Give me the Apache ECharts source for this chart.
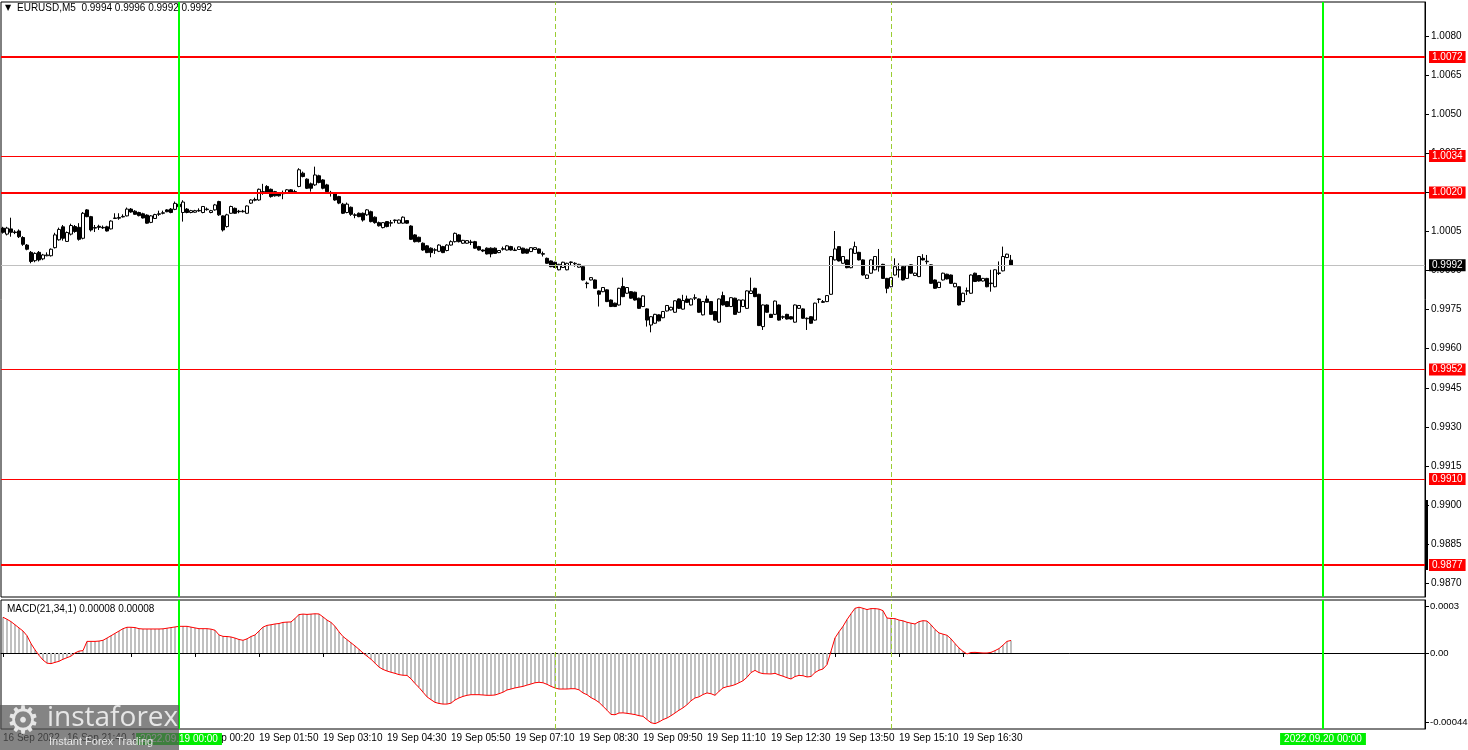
<!DOCTYPE html>
<html>
<head>
<meta charset="utf-8">
<title>EURUSD,M5</title>
<script src="https://cdn.jsdelivr.net/npm/echarts@6/dist/echarts.min.js"></script>
<style>
  html, body { margin: 0; padding: 0; background: #fff; }
  #chart { width: 1468px; height: 750px; }
</style>
</head>
<body>
<div id="chart"></div>
<script>
// EURUSD M5 bars, 16 Sep 20:20 .. 19 Sep 17:30, each row [open, close, low, high]
const ohlc = [
  [1.00063,1.00047,1.00042,1.00068],[1.00040,1.00063,1.00035,1.00068],[1.00060,1.00047,1.00030,1.00103],[1.00048,1.00046,1.00040,1.00055],
  [1.00052,1.00030,1.00025,1.00058],[1.00027,1.00001,0.99995,1.00032],[0.99998,0.99982,0.99978,1.00002],[0.99970,0.99935,0.99928,0.99975],
  [0.99938,0.99966,0.99932,0.99970],[0.99970,0.99941,0.99935,0.99975],[0.99945,0.99960,0.99940,0.99964],[0.99957,0.99960,0.99955,0.99970],
  [0.99957,0.99982,0.99954,0.99985],[0.99988,1.00037,0.99985,1.00045],[1.00018,1.00058,1.00015,1.00065],[1.00068,1.00024,1.00015,1.00075],
  [1.00012,1.00046,1.00010,1.00050],[1.00040,1.00073,1.00035,1.00080],[1.00069,1.00050,1.00045,1.00075],[1.00066,1.00020,1.00015,1.00082],
  [1.00024,1.00120,1.00020,1.00125],[1.00133,1.00107,1.00105,1.00136],[1.00107,1.00056,1.00050,1.00110],[1.00065,1.00063,1.00048,1.00075],
  [1.00070,1.00066,1.00056,1.00076],[1.00066,1.00064,1.00060,1.00073],[1.00068,1.00052,1.00050,1.00072],[1.00060,1.00090,1.00058,1.00093],
  [1.00100,1.00102,1.00098,1.00120],[1.00101,1.00104,1.00095,1.00120],[1.00106,1.00108,1.00104,1.00116],[1.00110,1.00136,1.00108,1.00142],
  [1.00136,1.00125,1.00122,1.00140],[1.00128,1.00116,1.00114,1.00132],[1.00123,1.00111,1.00108,1.00126],[1.00118,1.00102,1.00100,1.00122],
  [1.00113,1.00082,1.00080,1.00116],[1.00085,1.00110,1.00082,1.00113],[1.00100,1.00115,1.00098,1.00118],[1.00116,1.00118,1.00110,1.00130],
  [1.00120,1.00122,1.00116,1.00130],[1.00133,1.00126,1.00124,1.00136],[1.00136,1.00123,1.00120,1.00140],[1.00135,1.00158,1.00132,1.00165],
  [1.00155,1.00145,1.00140,1.00160],[1.00123,1.00163,1.00088,1.00170],[1.00136,1.00123,1.00120,1.00140],[1.00123,1.00130,1.00120,1.00133],
  [1.00124,1.00130,1.00122,1.00133],[1.00129,1.00131,1.00126,1.00139],[1.00123,1.00146,1.00120,1.00148],[1.00134,1.00136,1.00130,1.00142],
  [1.00123,1.00130,1.00120,1.00133],[1.00133,1.00152,1.00130,1.00156],[1.00165,1.00114,1.00110,1.00168],[1.00110,1.00056,1.00050,1.00112],
  [1.00069,1.00114,1.00065,1.00118],[1.00120,1.00146,1.00118,1.00149],[1.00139,1.00120,1.00118,1.00142],[1.00128,1.00126,1.00120,1.00133],
  [1.00126,1.00128,1.00123,1.00133],[1.00120,1.00148,1.00118,1.00150],[1.00159,1.00171,1.00156,1.00174],[1.00170,1.00173,1.00166,1.00180],
  [1.00171,1.00212,1.00168,1.00215],[1.00203,1.00200,1.00191,1.00233],[1.00223,1.00197,1.00194,1.00228],[1.00212,1.00184,1.00180,1.00215],
  [1.00203,1.00187,1.00184,1.00206],[1.00197,1.00187,1.00184,1.00200],[1.00195,1.00199,1.00174,1.00207],[1.00197,1.00210,1.00194,1.00213],
  [1.00210,1.00197,1.00194,1.00213],[1.00203,1.00201,1.00194,1.00210],[1.00223,1.00287,1.00220,1.00293],[1.00274,1.00261,1.00258,1.00280],
  [1.00251,1.00216,1.00213,1.00254],[1.00233,1.00216,1.00203,1.00238],[1.00229,1.00267,1.00225,1.00299],[1.00264,1.00238,1.00235,1.00268],
  [1.00248,1.00216,1.00212,1.00251],[1.00229,1.00203,1.00200,1.00233],[1.00200,1.00198,1.00184,1.00206],[1.00197,1.00171,1.00168,1.00200],
  [1.00184,1.00159,1.00155,1.00187],[1.00155,1.00120,1.00117,1.00160],[1.00123,1.00155,1.00120,1.00161],[1.00143,1.00116,1.00110,1.00146],
  [1.00114,1.00112,1.00101,1.00120],[1.00120,1.00107,1.00105,1.00123],[1.00120,1.00094,1.00088,1.00123],[1.00114,1.00133,1.00110,1.00136],
  [1.00126,1.00088,1.00085,1.00130],[1.00105,1.00084,1.00080,1.00108],[1.00084,1.00072,1.00069,1.00088],[1.00065,1.00084,1.00062,1.00086],
  [1.00088,1.00069,1.00066,1.00090],[1.00082,1.00084,1.00069,1.00094],[1.00092,1.00094,1.00082,1.00096],[1.00082,1.00094,1.00080,1.00096],
  [1.00082,1.00105,1.00080,1.00108],[1.00092,1.00082,1.00080,1.00094],[1.00071,1.00020,1.00018,1.00074],[1.00037,1.00011,1.00008,1.00040],
  [1.00028,1.00011,1.00008,1.00030],[1.00005,0.99979,0.99976,1.00008],[0.99995,0.99969,0.99967,0.99998],[0.99986,0.99969,0.99951,0.99989],
  [0.99978,0.99980,0.99964,0.99986],[0.99974,0.99998,0.99971,1.00001],[0.99992,0.99969,0.99967,0.99995],[0.99977,0.99998,0.99974,1.00001],
  [0.99998,1.00011,0.99996,1.00016],[1.00011,1.00043,1.00008,1.00046],[1.00037,1.00011,1.00008,1.00040],[1.00005,1.00016,1.00002,1.00018],
  [1.00005,1.00015,1.00003,1.00017],[1.00010,1.00008,0.99998,1.00018],[1.00011,0.99986,0.99984,1.00014],[0.99992,0.99979,0.99977,0.99995],
  [0.99979,0.99975,0.99971,0.99981],[0.99986,0.99964,0.99962,0.99989],[0.99986,0.99964,0.99951,0.99989],[0.99986,0.99966,0.99964,0.99989],
  [0.99969,0.99977,0.99967,0.99979],[0.99982,0.99984,0.99977,0.99992],[0.99979,0.99995,0.99977,0.99998],[0.99992,0.99979,0.99977,0.99995],
  [0.99977,0.99979,0.99975,0.99988],[0.99981,0.99991,0.99979,0.99993],[0.99986,0.99967,0.99965,0.99988],[0.99982,0.99967,0.99965,0.99984],
  [0.99973,0.99988,0.99971,0.99990],[0.99981,0.99988,0.99979,0.99990],[0.99983,0.99967,0.99965,0.99985],[0.99965,0.99963,0.99954,0.99973],
  [0.99947,0.99928,0.99926,0.99950],[0.99937,0.99915,0.99913,0.99939],[0.99932,0.99912,0.99910,0.99934],[0.99903,0.99924,0.99901,0.99926],
  [0.99912,0.99932,0.99910,0.99934],[0.99903,0.99928,0.99901,0.99930],[0.99931,0.99933,0.99919,0.99935],[0.99926,0.99928,0.99915,0.99932],
  [0.99913,0.99924,0.99911,0.99926],[0.99915,0.99864,0.99862,0.99917],[0.99850,0.99852,0.99832,0.99858],[0.99864,0.99873,0.99862,0.99875],
  [0.99864,0.99832,0.99830,0.99866],[0.99822,0.99809,0.99762,0.99824],[0.99819,0.99835,0.99817,0.99837],[0.99826,0.99781,0.99779,0.99828],
  [0.99787,0.99762,0.99760,0.99789],[0.99775,0.99762,0.99760,0.99777],[0.99768,0.99832,0.99766,0.99834],[0.99839,0.99800,0.99798,0.99873],
  [0.99813,0.99835,0.99811,0.99837],[0.99819,0.99794,0.99792,0.99821],[0.99817,0.99787,0.99785,0.99819],[0.99794,0.99755,0.99753,0.99796],
  [0.99762,0.99803,0.99760,0.99805],[0.99753,0.99710,0.99685,0.99755],[0.99691,0.99723,0.99663,0.99725],[0.99698,0.99732,0.99696,0.99734],
  [0.99730,0.99707,0.99705,0.99732],[0.99719,0.99743,0.99717,0.99745],[0.99745,0.99766,0.99743,0.99768],[0.99749,0.99759,0.99747,0.99761],
  [0.99740,0.99784,0.99738,0.99786],[0.99791,0.99755,0.99753,0.99793],[0.99752,0.99785,0.99750,0.99807],[0.99791,0.99778,0.99776,0.99804],
  [0.99768,0.99791,0.99766,0.99793],[0.99794,0.99796,0.99787,0.99809],[0.99791,0.99740,0.99738,0.99793],[0.99730,0.99781,0.99728,0.99783],
  [0.99791,0.99778,0.99776,0.99804],[0.99781,0.99732,0.99730,0.99783],[0.99743,0.99710,0.99708,0.99745],[0.99702,0.99791,0.99700,0.99793],
  [0.99804,0.99768,0.99766,0.99819],[0.99781,0.99762,0.99760,0.99783],[0.99762,0.99796,0.99760,0.99798],[0.99794,0.99732,0.99730,0.99796],
  [0.99740,0.99787,0.99738,0.99789],[0.99762,0.99787,0.99760,0.99789],[0.99755,0.99822,0.99753,0.99824],[0.99812,0.99822,0.99810,0.99873],
  [0.99832,0.99800,0.99798,0.99834],[0.99809,0.99689,0.99687,0.99811],[0.99685,0.99768,0.99672,0.99770],[0.99768,0.99740,0.99738,0.99770],
  [0.99732,0.99720,0.99718,0.99734],[0.99732,0.99783,0.99730,0.99785],[0.99768,0.99710,0.99708,0.99770],[0.99721,0.99723,0.99714,0.99727],
  [0.99732,0.99714,0.99712,0.99734],[0.99723,0.99714,0.99712,0.99725],[0.99702,0.99768,0.99700,0.99770],[0.99755,0.99766,0.99753,0.99768],
  [0.99753,0.99717,0.99715,0.99755],[0.99715,0.99717,0.99672,0.99720],[0.99723,0.99698,0.99696,0.99725],[0.99710,0.99775,0.99708,0.99777],
  [0.99789,0.99791,0.99775,0.99793],[0.99778,0.99781,0.99776,0.99787],[0.99781,0.99804,0.99779,0.99806],[0.99809,0.99954,0.99807,0.99956],
  [0.99941,0.99983,0.99939,1.00052],[0.99992,0.99937,0.99935,0.99994],[0.99928,0.99954,0.99926,0.99956],[0.99941,0.99911,0.99909,0.99943],
  [0.99911,0.99983,0.99909,0.99985],[0.99966,0.99992,0.99964,1.00011],[0.99970,0.99941,0.99939,0.99972],[0.99941,0.99883,0.99881,0.99943],
  [0.99870,0.99883,0.99868,0.99885],[0.99890,0.99941,0.99888,0.99943],[0.99903,0.99954,0.99901,0.99956],[0.99914,0.99916,0.99896,0.99983],
  [0.99924,0.99870,0.99868,0.99926],[0.99870,0.99832,0.99813,0.99872],[0.99838,0.99873,0.99836,0.99875],[0.99883,0.99915,0.99881,0.99947],
  [0.99902,0.99904,0.99873,0.99928],[0.99915,0.99864,0.99862,0.99917],[0.99870,0.99919,0.99868,0.99921],[0.99922,0.99890,0.99888,0.99924],
  [0.99881,0.99890,0.99879,0.99892],[0.99877,0.99954,0.99875,0.99956],[0.99947,0.99941,0.99939,0.99963],[0.99934,0.99936,0.99924,0.99960],
  [0.99922,0.99851,0.99849,0.99924],[0.99864,0.99832,0.99830,0.99866],[0.99835,0.99855,0.99833,0.99857],[0.99864,0.99890,0.99862,0.99892],
  [0.99886,0.99868,0.99866,0.99888],[0.99883,0.99851,0.99849,0.99885],[0.99838,0.99851,0.99836,0.99853],[0.99838,0.99768,0.99766,0.99840],
  [0.99781,0.99813,0.99779,0.99815],[0.99821,0.99823,0.99806,0.99835],[0.99813,0.99883,0.99811,0.99885],[0.99890,0.99858,0.99856,0.99892],
  [0.99881,0.99860,0.99858,0.99883],[0.99860,0.99870,0.99858,0.99872],[0.99870,0.99838,0.99836,0.99872],[0.99850,0.99852,0.99819,0.99903],
  [0.99838,0.99903,0.99836,0.99905],[0.99889,0.99891,0.99883,0.99935],[0.99899,0.99954,0.99897,0.99992],[0.99950,0.99963,0.99948,0.99965],
  [0.99940,0.99920,0.99920,0.99960]
];

// MACD(21,34,1) main line, one value per bar
const macd = [
  0.000228,0.000215,0.0002,0.00018,0.00016,0.00014,0.00011,0.00006,0.00002,-0.000015,-0.000045,-0.000065,-0.000068,-0.00006,-0.000053,-0.00004,
  -0.00003,-0.00002,0,0.000012,0.000015,0.000074,0.000074,0.000074,0.000076,0.000081,0.000095,0.00011,0.000125,0.00014,0.000155,0.000164,
  0.000164,0.000162,0.000155,0.000153,0.000153,0.000153,0.000153,0.000153,0.000154,0.000158,0.000162,0.000166,0.00017,0.00017,0.00017,0.000165,
  0.00016,0.000155,0.000155,0.000155,0.000152,0.000145,0.000115,0.000106,0.000105,0.000102,0.000095,0.000086,0.000081,0.00009,0.000105,0.000115,
  0.00014,0.000165,0.000176,0.00018,0.000185,0.000188,0.000195,0.000197,0.000198,0.00022,0.000245,0.000248,0.000246,0.000248,0.00025,0.000249,
  0.00023,0.00021,0.000195,0.00017,0.000135,0.000105,0.000085,0.000065,0.000045,0.000023,0,-0.00002,-0.00004,-0.000065,-0.00009,-0.000105,
  -0.000115,-0.000123,-0.00013,-0.000138,-0.000142,-0.000143,-0.000165,-0.000195,-0.00022,-0.00025,-0.00028,-0.000298,-0.000315,-0.000322,-0.000326,-0.000326,
  -0.00032,-0.0003,-0.000287,-0.000277,-0.00027,-0.000266,-0.000266,-0.000266,-0.000268,-0.00027,-0.00027,-0.000268,-0.00026,-0.00025,-0.000236,-0.00023,
  -0.000223,-0.000218,-0.000213,-0.000205,-0.000198,-0.00019,-0.000187,-0.00019,-0.0002,-0.000213,-0.000223,-0.00023,-0.00023,-0.00023,-0.000228,-0.000228,
  -0.000235,-0.000255,-0.000266,-0.000285,-0.000298,-0.000315,-0.00034,-0.000365,-0.000392,-0.000394,-0.000383,-0.000382,-0.000385,-0.000389,-0.000393,-0.0004,
  -0.000404,-0.000425,-0.000445,-0.000451,-0.00044,-0.000425,-0.000415,-0.0004,-0.000383,-0.000365,-0.00035,-0.00033,-0.000305,-0.000287,-0.00028,-0.000265,
  -0.000255,-0.00026,-0.00027,-0.000245,-0.000223,-0.000215,-0.00021,-0.000202,-0.00019,-0.000177,-0.000155,-0.000125,-0.000111,-0.000125,-0.000132,-0.000133,
  -0.000134,-0.00013,-0.00014,-0.000148,-0.000158,-0.000166,-0.00015,-0.000143,-0.000145,-0.000153,-0.00015,-0.000125,-0.00011,-0.000102,-0.000074,0.000011,
  0.000096,0.000135,0.00017,0.000213,0.00025,0.000285,0.000292,0.000285,0.000277,0.000283,0.000283,0.00028,0.00027,0.000223,0.00022,0.000219,
  0.00021,0.000205,0.000196,0.00019,0.000185,0.0002,0.000206,0.000204,0.00018,0.00015,0.000128,0.00012,0.000113,0.00009,0.00006,0.000032,
  0.00001,-0.000006,0.000003,0.000004,0.000002,0,0,0.000004,0.000015,0.000028,0.00005,0.000074,0.00008
];

// time labels, one every 16 bars from the first bar
const tickLabels = ['16 Sep 2022','16 Sep 21:40','16 Sep 23:00','19 Sep 00:20','19 Sep 01:50','19 Sep 03:10','19 Sep 04:30',
  '19 Sep 05:50','19 Sep 07:10','19 Sep 08:30','19 Sep 09:50','19 Sep 11:10','19 Sep 12:30','19 Sep 13:50','19 Sep 15:10','19 Sep 16:30'];
const priceTicks = [0.9870,0.9885,0.9900,0.9915,0.9930,0.9945,0.9960,0.9975,0.9990,1.0005,1.0020,1.0035,1.0050,1.0065,1.0080];
const macdTicks = [0.0003, 0, -0.00044];
const macdTickLabels = ['0.0003', '0.00', '-0.00044'];
const majorLevels = [1.0072, 1.0020, 0.9877];
const minorLevels = [1.0034, 0.9952, 0.9910];
const lastPrice = 0.9992;
const dayStarts = [{ bar: 44, text: '2022.09.19 00:00' }, { bar: 330, text: '2022.09.20 00:00' }];
const separators = [138, 222];
const slotCount = 356;

const FONT = '"Liberation Sans", Arial, sans-serif';
const slots = [];
for (let i = 0; i < slotCount; i++) slots.push(String(i));
const showTick = (idx) => idx % 16 === 0 && idx / 16 < tickLabels.length;
const last = ohlc[ohlc.length - 1];

const vLines = (withLabel) => [
  ...dayStarts.map(d => ({
    xAxis: String(d.bar),
    lineStyle: { color: '#00ff00', width: 2, type: 'solid' },
    label: withLabel ? {
      show: true, position: 'start', distance: 4, formatter: d.text,
      color: '#fff', backgroundColor: '#00ee00', padding: [1, 4], fontSize: 10, fontFamily: FONT
    } : { show: false }
  })),
  ...separators.map(b => ({
    xAxis: String(b),
    lineStyle: { color: '#9acd32', width: 1, type: [5, 3] },
    label: { show: false }
  }))
];

const levelLabel = (bg) => ({
  show: true, position: 'end', distance: 4,
  formatter: p => Number(p.value).toFixed(4),
  color: '#fff', backgroundColor: bg, padding: [1, 3], fontSize: 10, fontFamily: FONT
});

const chart = echarts.init(document.getElementById('chart'));
chart.setOption({
  animation: false,
  backgroundColor: '#fff',
  grid: [
    { left: 1, right: 43, top: 2, height: 595, show: true, borderColor: '#000', borderWidth: 1, outerBoundsMode: 'none', containLabel: false },
    { left: 1, right: 43, top: 600, height: 129, show: true, borderColor: '#000', borderWidth: 1, outerBoundsMode: 'none', containLabel: false }
  ],
  xAxis: [
    { type: 'category', gridIndex: 0, data: slots, boundaryGap: true,
      axisLine: { show: false }, axisTick: { show: false }, axisLabel: { show: false }, splitLine: { show: false } },
    { type: 'category', gridIndex: 1, data: slots, boundaryGap: true,
      axisLine: { show: true, lineStyle: { color: '#000' } },
      axisTick: { show: true, alignWithLabel: true, interval: showTick, length: 4, lineStyle: { color: '#000' } },
      axisLabel: { show: true, interval: showTick, align: 'left', margin: 4, color: '#000', fontSize: 10, fontFamily: FONT,
        formatter: (v, idx) => tickLabels[idx / 16] },
      splitLine: { show: false } }
  ],
  yAxis: [
    { type: 'value', gridIndex: 0, position: 'right', min: 0.98647, max: 1.00931, scale: true,
      axisLine: { show: true, lineStyle: { color: '#000' } },
      axisTick: { show: true, customValues: priceTicks, length: 4, lineStyle: { color: '#000' } },
      axisLabel: { show: true, customValues: priceTicks, margin: 6, color: '#000', fontSize: 10, fontFamily: FONT,
        formatter: v => v.toFixed(4) },
      splitLine: { show: false } },
    { type: 'value', gridIndex: 1, position: 'right', min: -0.000485, max: 0.000338,
      axisLine: { show: true, lineStyle: { color: '#000' } },
      axisTick: { show: true, customValues: macdTicks, length: 4, lineStyle: { color: '#000' } },
      axisLabel: { show: true, customValues: macdTicks, margin: 5, color: '#000', fontSize: 9.5, fontFamily: FONT,
        formatter: v => macdTickLabels[macdTicks.findIndex(t => Math.abs(t - v) < 1e-9)] },
      splitLine: { show: false } }
  ],
  series: [
    {
      type: 'candlestick', xAxisIndex: 0, yAxisIndex: 0, data: ohlc, barWidth: 3,
      itemStyle: { color: '#fff', color0: '#000', borderColor: '#000', borderColor0: '#000', borderWidth: 1 },
      markLine: {
        silent: true, symbol: 'none', animation: false, precision: 5,
        data: [
          { yAxis: lastPrice, lineStyle: { color: '#c0c0c0', width: 1, type: 'solid' }, label: levelLabel('#000') },
          ...majorLevels.map(v => ({ yAxis: v, lineStyle: { color: '#ff0000', width: 2, type: 'solid' }, label: levelLabel('#ff0000') })),
          ...minorLevels.map(v => ({ yAxis: v, lineStyle: { color: '#ff0000', width: 1, type: 'solid' }, label: levelLabel('#ff0000') })),
          ...vLines(false)
        ]
      }
    },
    {
      type: 'bar', xAxisIndex: 1, yAxisIndex: 1, data: macd, barWidth: 2,
      itemStyle: { color: '#c0c0c0' },
      markLine: { silent: true, symbol: 'none', animation: false, precision: 6, data: vLines(true) }
    },
    {
      type: 'line', xAxisIndex: 1, yAxisIndex: 1, data: macd, symbol: 'none',
      lineStyle: { color: '#ff0000', width: 1 }, z: 3
    }
  ],
  graphic: [
    { type: 'text', left: 5, top: 4, style: { text: '▼', fontSize: 8, fill: '#000', fontFamily: 'DejaVu Sans' } },
    { type: 'text', left: 17, top: 3, style: {
        text: 'EURUSD,M5  ' + [last[0], last[3], last[2], last[1]].map(v => v.toFixed(4)).join(' '),
        fill: '#000', font: '10px ' + FONT } },
    { type: 'text', left: 7, top: 604, style: {
        text: 'MACD(21,34,1) ' + macd[macd.length - 1].toFixed(5) + ' ' + macd[macd.length - 1].toFixed(5),
        fill: '#000', font: '10px ' + FONT } },
    { type: 'rect', shape: { x: 1425, y: 500, width: 3, height: 70 }, style: { fill: '#000' }, z: 10 },
    // broker watermark, bottom left
    { type: 'group', z: 100, children: [
      { type: 'rect', shape: { x: 0, y: 705, width: 179, height: 45 }, style: { fill: 'rgba(85,85,85,0.72)' }, z: 100 },
      { type: 'text', x: 6, y: 704, style: { text: '⚙', fontSize: 38, fill: '#e6e6e6', fontFamily: 'DejaVu Sans' }, z: 101 },
      { type: 'text', x: 47, y: 704, style: { text: 'instaforex', fontSize: 28, fill: '#e6e6e6', fontFamily: '"Open Sans", sans-serif' }, z: 101 },
      { type: 'text', x: 49, y: 736, style: { text: 'Instant Forex Trading', fontSize: 11, fill: '#e6e6e6', fontFamily: FONT }, z: 101 }
    ] }
  ]
});
</script>
</body>
</html>
